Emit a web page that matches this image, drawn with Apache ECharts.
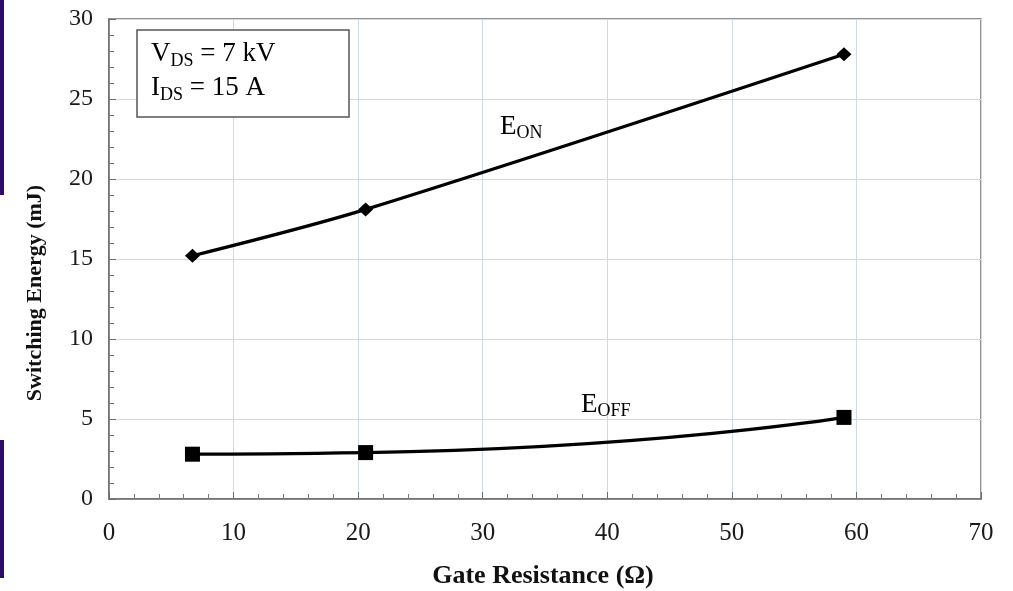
<!DOCTYPE html>
<html>
<head>
<meta charset="utf-8">
<script src="https://cdn.jsdelivr.net/npm/echarts@6/dist/echarts.min.js"></script>
<style>
  html, body { margin: 0; padding: 0; background: #ffffff; }
  #chart { width: 1013px; height: 591px; }
</style>
</head>
<body>
<div id="chart"></div>
<script>
// Gate resistance (Ω) at which each switching energy was measured
const gateResistance = [6.7, 20.6, 59.0];
// Turn-on and turn-off switching energy (mJ)
const eOn = [15.2, 18.1, 27.8];
const eOff = [2.8, 2.9, 5.1];

const xTicks = [0, 10, 20, 30, 40, 50, 60, 70];
const yTicks = [0, 5, 10, 15, 20, 25, 30];

const serif = '"Liberation Serif", "Times New Roman", serif';

const chart = echarts.init(document.getElementById('chart'));

function pairs(xs, ys) {
  return xs.map((x, i) => [x, ys[i]]);
}

const gridLine = { show: true, lineStyle: { color: '#d0d9e7', width: 1 } };

// text with a lowered subscript, e.g. V_DS
function subText(main, sub, rest, size, subSize, lh, drop) {
  return {
    text: '{m|' + main + '}{s|' + sub + '}' + (rest ? '{m|' + rest + '}' : ''),
    rich: {
      m: { fontFamily: serif, fontSize: size, color: '#111', lineHeight: lh },
      s: { fontFamily: serif, fontSize: subSize, color: '#111', lineHeight: lh, padding: [drop, 0, 0, 0] }
    }
  };
}

chart.setOption({
  animation: false,
  backgroundColor: '#ffffff',
  grid: {
    left: 109, top: 19, right: 32, bottom: 92,
    show: true, borderColor: '#6e6e6e', borderWidth: 1.5, backgroundColor: 'transparent'
  },
  xAxis: {
    type: 'value',
    min: xTicks[0], max: xTicks[xTicks.length - 1], interval: 10,
    axisLine: { show: true, lineStyle: { color: '#6e6e6e', width: 1.5 } },
    axisTick: { show: true, inside: true, length: 7, lineStyle: { color: '#6e6e6e' } },
    minorTick: { show: true, splitNumber: 5, length: 5, lineStyle: { color: '#7a7a7a' } },
    axisLabel: { fontFamily: serif, fontSize: 25, color: '#1a1a1a', margin: 22 },
    splitLine: gridLine
  },
  yAxis: {
    type: 'value',
    min: yTicks[0], max: yTicks[yTicks.length - 1], interval: 5,
    axisLine: { show: true, lineStyle: { color: '#6e6e6e', width: 1.5 } },
    axisTick: { show: true, inside: true, length: 7, lineStyle: { color: '#6e6e6e' } },
    minorTick: { show: true, splitNumber: 5, length: 5, lineStyle: { color: '#7a7a7a' } },
    axisLabel: { fontFamily: serif, fontSize: 24, color: '#1a1a1a', margin: 16 },
    splitLine: gridLine
  },
  series: [
    {
      name: 'EON',
      type: 'line',
      data: pairs(gateResistance, eOn),
      smooth: 0.3,
      symbol: 'diamond',
      symbolSize: [15, 14],
      itemStyle: { color: '#000' },
      lineStyle: { color: '#000', width: 3.2 },
      z: 3
    },
    {
      name: 'EOFF',
      type: 'line',
      data: pairs(gateResistance, eOff),
      smooth: 0.6,
      symbol: 'rect',
      symbolSize: 15,
      itemStyle: { color: '#000' },
      lineStyle: { color: '#000', width: 3.2 },
      z: 3
    }
  ],
  graphic: [
    // dark side strips at the page's left edge
    { type: 'rect', shape: { x: 0, y: 0, width: 4, height: 195 }, style: { fill: '#2e0b6e' } },
    { type: 'rect', shape: { x: 0, y: 440, width: 4, height: 138 }, style: { fill: '#2e0b6e' } },
    // axis titles
    {
      type: 'text', x: 35, y: 293, rotation: Math.PI / 2, z: 11,
      style: {
        text: 'Switching Energy (mJ)', fontFamily: serif, fontSize: 22, fontWeight: 'bold',
        fill: '#111', align: 'center', verticalAlign: 'middle'
      }
    },
    {
      type: 'text', x: 543, y: 576, z: 11,
      style: {
        text: 'Gate Resistance (Ω)', fontFamily: serif, fontSize: 26, fontWeight: 'bold',
        fill: '#111', align: 'center', verticalAlign: 'middle'
      }
    },
    // test-condition box
    {
      type: 'rect',
      shape: { x: 137, y: 30, width: 212, height: 87 },
      style: { fill: '#ffffff', stroke: '#555', lineWidth: 1.5 },
      z: 10
    },
    { type: 'text', x: 151, y: 37, z: 11, style: subText('V', 'DS', ' = 7 kV', 27, 18, 33, 15) },
    { type: 'text', x: 151, y: 71, z: 11, style: subText('I', 'DS', ' = 15 A', 27, 18, 33, 15) },
    // curve names
    { type: 'text', x: 500, y: 111, z: 11, style: subText('E', 'ON', '', 27, 18, 32, 13) },
    { type: 'text', x: 581, y: 389, z: 11, style: subText('E', 'OFF', '', 27, 18, 32, 13) }
  ]
});
</script>
</body>
</html>
